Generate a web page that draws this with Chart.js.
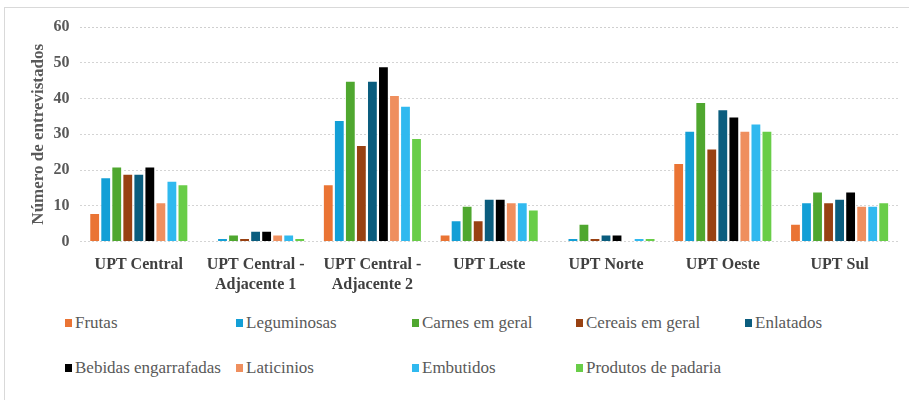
<!DOCTYPE html>
<html>
<head>
<meta charset="utf-8">
<script src="https://cdn.jsdelivr.net/npm/chart.js@4"></script>
<style>
  body { margin: 0; background: #fff; }
  #wrap { position: relative; width: 909px; height: 400px; overflow: hidden; }
  #frame { position: absolute; left: 4px; top: 7px; right: -2px; bottom: -2px;
           border-left: 1px solid #d9d9d9; border-top: 1px solid #d9d9d9; }
  #box { position: absolute; left: 0; top: 0; width: 909px; height: 308px; }
  #legend { position: absolute; left: 0; top: 0; width: 909px;
            font-family: "Liberation Serif", "Times New Roman", "DejaVu Serif", serif;
            font-size: 17px; color: #595959; }
  .item { position: absolute; white-space: nowrap; line-height: 18px; }
  .item span.sw { display: inline-block; width: 7px; height: 8px; margin-right: 3px; vertical-align: 1px; }
</style>
</head>
<body>
<div id="wrap">
  <div id="frame"></div>
  <div id="box"><canvas id="chart"></canvas></div>
  <div id="legend"></div>
</div>
<script>
// categories (UPT regions)
const categories = [
  "UPT Central",
  ["UPT Central -", "Adjacente 1"],
  ["UPT Central -", "Adjacente 2"],
  "UPT Leste",
  "UPT Norte",
  "UPT Oeste",
  "UPT Sul"
];

const seriesNames = [
  "Frutas", "Leguminosas", "Carnes em geral", "Cereais em geral", "Enlatados",
  "Bebidas engarrafadas", "Laticinios", "Embutidos", "Produtos de padaria"
];

// values per product, one per UPT
const frutas      = [8, 0, 16, 2, 0, 22, 5];
const leguminosas = [18, 1, 34, 6, 1, 31, 11];
const carnes      = [21, 2, 45, 10, 5, 39, 14];
const cereais     = [19, 1, 27, 6, 1, 26, 11];
const enlatados   = [19, 3, 45, 12, 2, 37, 12];
const bebidas     = [21, 3, 49, 12, 2, 35, 14];
const laticinios  = [11, 2, 41, 11, 0, 31, 10];
const embutidos   = [17, 2, 38, 11, 1, 33, 10];
const padaria     = [16, 1, 29, 9, 1, 31, 11];

const yTicks = [0, 10, 20, 30, 40, 50, 60];

const colors = ["#ea7434", "#139fd6", "#4fa72f", "#984112", "#0b5d7e",
                "#000000", "#ef8f5e", "#30b9ef", "#69cd48"];

const allValues = [frutas, leguminosas, carnes, cereais, enlatados,
                   bebidas, laticinios, embutidos, padaria];

const datasets = seriesNames.map((name, i) => ({
  label: name,
  data: allValues[i],
  backgroundColor: colors[i],
  borderColor: "#ffffff",
  borderWidth: 1,
  categoryPercentage: 0.85,
  barPercentage: 0.98
}));

const tickFont = { family: "Liberation Serif", size: 16, weight: "bold" };

new Chart(document.getElementById("chart"), {
  type: "bar",
  data: { labels: categories, datasets: datasets },
  options: {
    responsive: true,
    maintainAspectRatio: false,
    animation: false,
    layout: { padding: { top: 27, right: 11, bottom: 8, left: 22 } },
    plugins: { legend: { display: false }, tooltip: { enabled: false } },
    scales: {
      x: {
        grid: { display: false },
        border: { display: false },
        ticks: { color: "#404040", font: tickFont, padding: 6, maxRotation: 0, autoSkip: false }
      },
      y: {
        min: 0,
        max: 60,
        afterBuildTicks: (axis) => { axis.ticks = yTicks.map(v => ({ value: v })); },
        grid: {
          color: (c) => (c.tick && c.tick.value === 60) ? "#cfcfcf" : "#d4d4d4",
          drawTicks: false
        },
        border: { display: false, dash: [2, 2] },
        ticks: { color: "#595959", font: tickFont, padding: 11 },
        title: {
          display: true,
          text: "Número de entrevistados",
          color: "#595959",
          font: { family: "Liberation Serif", size: 17, weight: "bold" },
          padding: { top: 6, bottom: -6 }
        }
      }
    }
  }
});

// legend laid out in columns like the original
const legendCols = [65, 236, 412, 576, 745];
const legendRows = [314, 359];
const legend = document.getElementById("legend");
seriesNames.forEach((name, i) => {
  const el = document.createElement("div");
  el.className = "item";
  el.style.left = legendCols[i % 5] + "px";
  el.style.top = legendRows[Math.floor(i / 5)] + "px";
  el.innerHTML = '<span class="sw" style="background:' + colors[i] + '"></span>' + name;
  legend.appendChild(el);
});
</script>
</body>
</html>
